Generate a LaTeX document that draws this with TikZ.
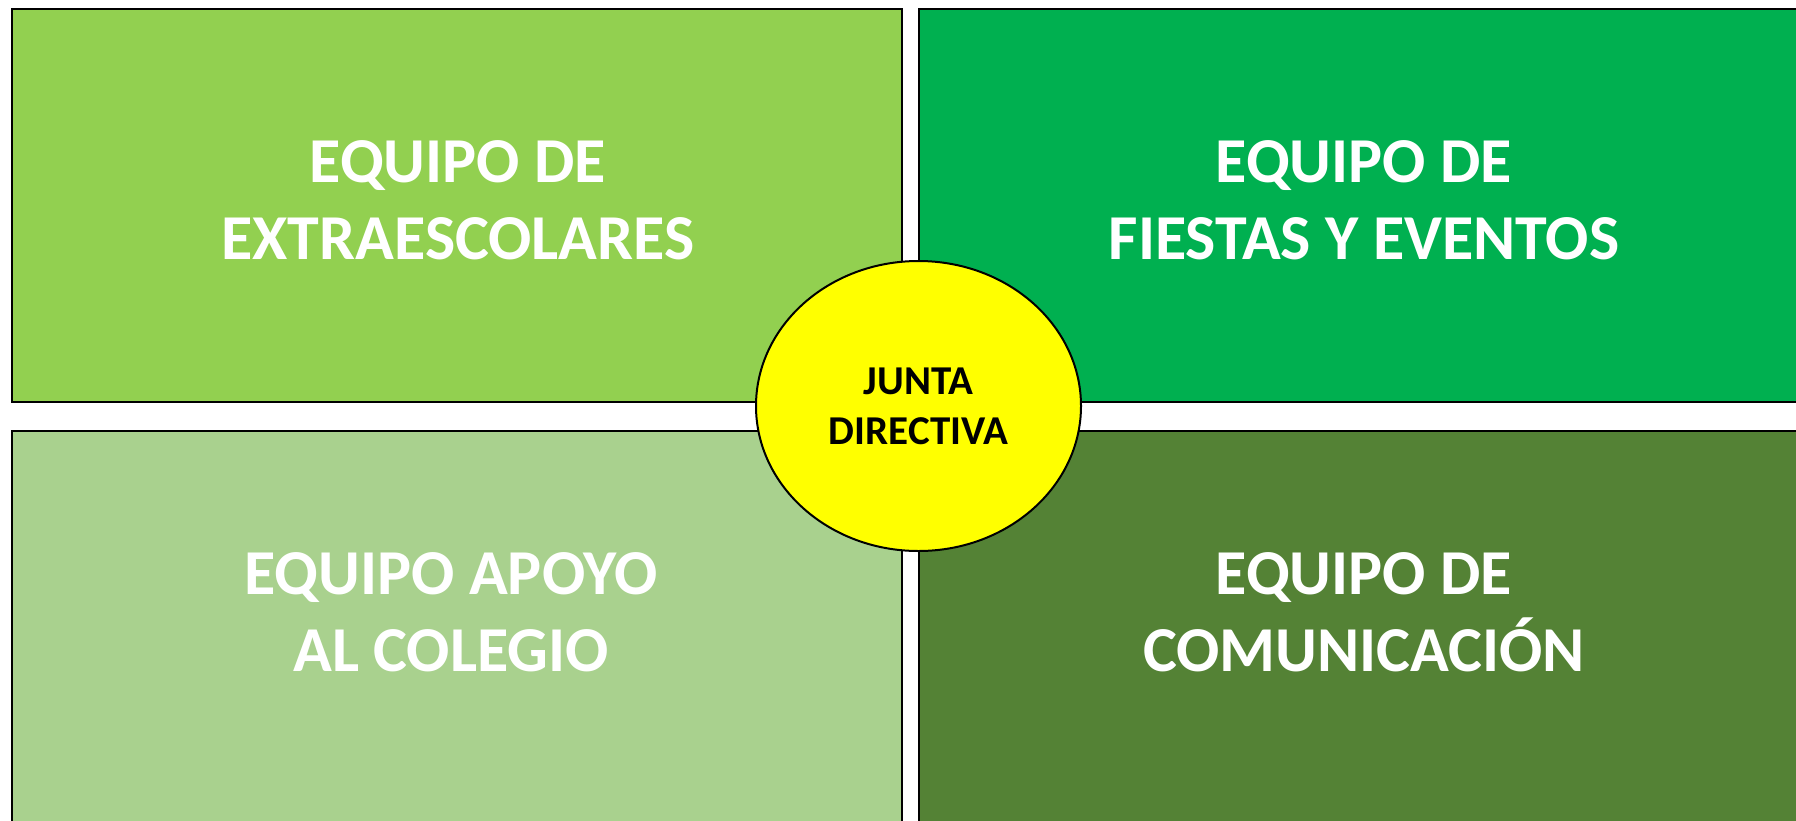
\documentclass[tikz,border=0pt]{standalone}
\usepackage{fontspec}
\setmainfont{Carlito}
\usetikzlibrary{shapes.geometric}
\definecolor{verdeclaro}{HTML}{92D050}
\definecolor{verdevivo}{HTML}{00B050}
\definecolor{verdepalido}{HTML}{A9D18E}
\definecolor{verdeoscuro}{HTML}{548235}
\definecolor{amarillo}{HTML}{FFFF00}
\begin{document}
\begin{tikzpicture}[x=1pt,y=-1pt,
  equipo/.style={rectangle,draw=black,line width=2pt,inner sep=0pt,minimum width=890pt,minimum height=393pt},
  rotulo/.style={text=white,align=center,inner sep=0pt,font=\bfseries\fontsize{64}{77}\selectfont},
  junta/.style={ellipse,draw=black,line width=2pt,fill=amarillo,inner sep=0pt,minimum width=325pt,minimum height=290pt,align=center,font=\bfseries\fontsize{41}{50}\selectfont}]
\useasboundingbox (0,0) rectangle (1796,820);
\clip (0,0) rectangle (1796,820);
\fill[white] (0,0) rectangle (1796,820);

\node[equipo,fill=verdeclaro] (extraescolares) at (457,205.5) {};
\node[equipo,fill=verdevivo] (fiestas) at (1364,205.5) {};
\node[equipo,fill=verdepalido] (apoyo) at (457,627.5) {};
\node[equipo,fill=verdeoscuro] (comunicacion) at (1364,627.5) {};

\node[rotulo] (extraescolares-txt) at (458,200) {EQUIPO DE\\EXTRAESCOLARES};
\node[rotulo] (fiestas-txt) at (1364,200) {EQUIPO DE\\FIESTAS Y EVENTOS};
\node[rotulo] (apoyo-txt) at (451,612) {EQUIPO APOYO\\AL COLEGIO};
\node[rotulo] (comunicacion-txt) at (1364,612) {EQUIPO DE\\COMUNICACIÓN};

\node[junta] (junta) at (918.5,406) {JUNTA\\DIRECTIVA};
\end{tikzpicture}
\end{document}
